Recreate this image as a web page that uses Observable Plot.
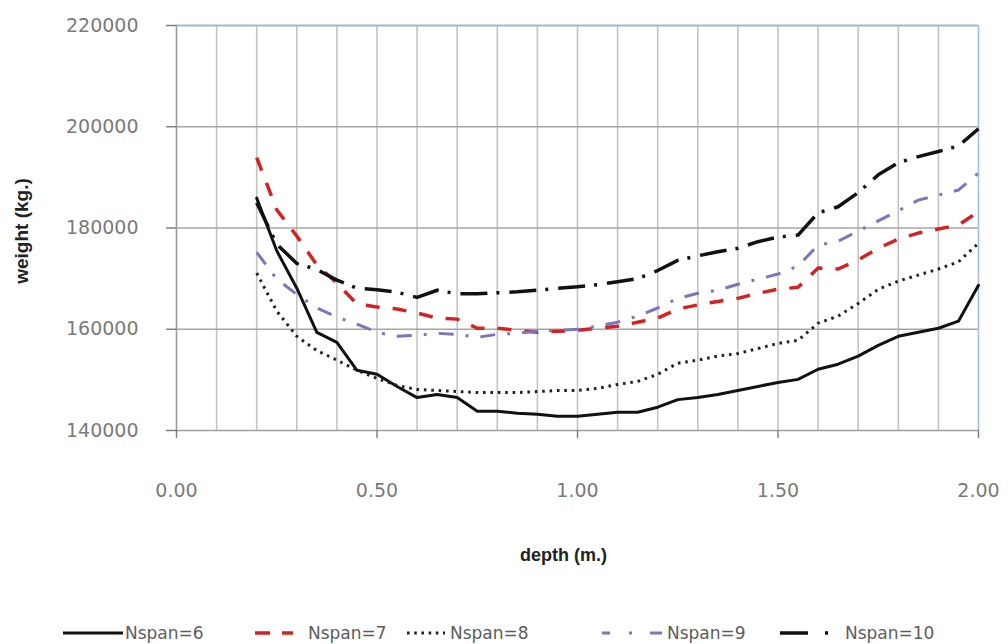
<!DOCTYPE html>
<html>
<head>
<meta charset="utf-8">
<script src="https://cdn.jsdelivr.net/npm/d3@7"></script>
<script src="https://cdn.jsdelivr.net/npm/@observablehq/plot@0.6"></script>
<style>
  body { margin: 0; background: #fff; font-family: "DejaVu Sans", sans-serif; }
  #wrap { position: relative; width: 1008px; height: 644px; overflow: hidden; background: #fff; }
  #legend { position: absolute; left: 0; top: 621px; width: 1008px; height: 24px; }
  .item { position: absolute; top: 0; height: 24px; display: flex; align-items: center;
          font-size: 17px; color: #5c5c5c; white-space: nowrap; }
  .item svg { display: block; margin-right: 4px; }
</style>
</head>
<body>
<div id="wrap">
  <div id="chart"></div>
  <div id="legend"></div>
</div>
<script>
// Beam depth (m.)
const depth = [0.20, 0.25, 0.30, 0.35, 0.40, 0.45, 0.50, 0.55, 0.60, 0.65,
               0.70, 0.75, 0.80, 0.85, 0.90, 0.95, 1.00, 1.05, 1.10, 1.15,
               1.20, 1.25, 1.30, 1.35, 1.40, 1.45, 1.50, 1.55, 1.60, 1.65,
               1.70, 1.75, 1.80, 1.85, 1.90, 1.95, 2.00];

// Total weight (kg.) for each number of spans
const nspan6 = [185900, 175500, 168100, 159400, 157400, 151900, 151100, 148700, 146500, 147100,
                146500, 143800, 143800, 143400, 143200, 142800, 142800, 143200, 143600, 143600,
                144600, 146100, 146500, 147100, 147900, 148700, 149500, 150100, 152100, 153100,
                154700, 156800, 158600, 159400, 160200, 161600, 168700];
const nspan7 = [193900, 183600, 178400, 172700, 169100, 165000, 164400, 164000, 163200, 162200,
                162000, 160200, 160200, 159800, 159400, 159600, 159800, 160200, 160600, 161400,
                162200, 164000, 164800, 165500, 166100, 167100, 167900, 168300, 172100, 171900,
                173700, 176000, 177800, 179000, 179800, 180600, 183200];
const nspan8 = [171100, 163600, 158600, 155800, 153900, 151900, 150300, 148900, 148100, 147900,
                147700, 147500, 147500, 147500, 147700, 147900, 147900, 148300, 149100, 149700,
                151100, 153300, 153900, 154700, 155200, 156200, 157200, 157800, 161200, 162600,
                165100, 167900, 169500, 170700, 171900, 173300, 177000];
const nspan9 = [175200, 169900, 166900, 164200, 162400, 161000, 159400, 158600, 158800, 159200,
                159000, 158400, 159000, 159200, 159600, 159800, 160000, 160600, 161400, 162600,
                164200, 166100, 167100, 167700, 168900, 169900, 170900, 172500, 176600, 177400,
                179400, 181400, 183400, 185500, 186500, 187500, 190900];
const nspan10 = [185000, 176800, 173000, 171800, 169700, 168100, 167800, 167300, 166300, 167700,
                 167000, 167000, 167200, 167400, 167700, 168100, 168400, 168800, 169400, 170000,
                 171600, 173600, 174500, 175300, 176000, 177300, 178200, 178600, 183000, 184200,
                 187000, 190500, 192900, 194100, 195100, 196200, 199600];

const seriesNames = ["Nspan=6", "Nspan=7", "Nspan=8", "Nspan=9", "Nspan=10"];
const seriesValues = [nspan6, nspan7, nspan8, nspan9, nspan10];

const yTicks = [140000, 160000, 180000, 200000, 220000];
const xTicks = [0, 0.5, 1, 1.5, 2];
const xGrid = [0.1, 0.2, 0.3, 0.4, 0.5, 0.6, 0.7, 0.8, 0.9, 1.0,
               1.1, 1.2, 1.3, 1.4, 1.5, 1.6, 1.7, 1.8, 1.9];
const yGrid = [160000, 180000, 200000];

// Line style for each series
const lineStyles = {
  "Nspan=6":  {stroke: "#111", strokeWidth: 3, dash: null, cap: "round"},
  "Nspan=7":  {stroke: "#d42222", strokeWidth: 3.5, dash: "14,13", cap: "butt"},
  "Nspan=8":  {stroke: "#222", strokeWidth: 3, dash: "2.6,4.8", cap: "butt"},
  "Nspan=9":  {stroke: "#7c74bc", strokeWidth: 3, dash: "15,12,3,12", cap: "butt"},
  "Nspan=10": {stroke: "#111", strokeWidth: 3.5, dash: "27,9,3,10", cap: "butt"}
};

const rows = [];
seriesNames.forEach((name, i) => {
  depth.forEach((d, j) => rows.push({series: name, depth: d, weight: seriesValues[i][j]}));
});

const lineMarks = seriesNames.map(name => {
  const s = lineStyles[name];
  return Plot.line(rows.filter(r => r.series === name), {
    x: "depth", y: "weight",
    stroke: s.stroke, strokeWidth: s.strokeWidth,
    strokeDasharray: s.dash ?? undefined,
    strokeLinecap: s.cap, strokeLinejoin: "round"
  });
});

const titleFont = "Liberation Sans, Arial, sans-serif";

const chart = Plot.plot({
  width: 1000,
  height: 612,
  marginLeft: 176,
  marginRight: 22,
  marginTop: 25,
  marginBottom: 182,
  x: {domain: [0, 2]},
  y: {domain: [140000, 220000]},
  style: {fontFamily: "DejaVu Sans, sans-serif", fontSize: "19px", background: "transparent", overflow: "hidden"},
  marks: [
    Plot.ruleX(xGrid, {stroke: "#c4c4c4", strokeWidth: 1.6}),
    Plot.ruleY(yGrid, {stroke: "#a6a6a6", strokeWidth: 1.6}),
    Plot.ruleY([140000], {stroke: "#a0a0a0", strokeWidth: 1.6}),
    Plot.ruleY([220000], {stroke: "#9fb4e6", strokeWidth: 1.8}),
    Plot.ruleX([2], {stroke: "#a9bbe6", strokeWidth: 1.6}),
    Plot.ruleX([0], {stroke: "#999", strokeWidth: 1.6}),
    Plot.axisY({ticks: yTicks, tickSize: 10, tickPadding: 28, tickFormat: d => String(d),
                label: null, color: "#7a7a7a", strokeWidth: 1.4}),
    Plot.axisX({ticks: xTicks, tickSize: 8, tickPadding: 45, tickFormat: d3.format(".2f"),
                label: null, color: "#7a7a7a", strokeWidth: 1.4}),
    Plot.text(["depth (m.)"], {frameAnchor: "bottom", dy: 125, dx: -14, text: d => d,
                               textAnchor: "middle", lineAnchor: "middle", fontFamily: titleFont,
                               fontWeight: "bold", fontSize: 18, fill: "#222"}),
    Plot.text(["weight (kg.)"], {frameAnchor: "left", dx: -155, dy: 3, rotate: -90, text: d => d,
                                 textAnchor: "middle", lineAnchor: "middle", fontFamily: titleFont,
                                 fontWeight: "bold", fontSize: 19, fill: "#222"}),
    ...lineMarks
  ]
});
document.getElementById("chart").appendChild(chart);

// Legend along the bottom
const legendLayout = [
  {name: "Nspan=6",  left: 63,  sample: 60, dash: null},
  {name: "Nspan=7",  left: 255, sample: 38, dash: "15,12", gap: 15},
  {name: "Nspan=8",  left: 407, sample: 38, dash: "2.6,4.6", gap: 5},
  {name: "Nspan=9",  left: 602, sample: 60, dash: "8,19,3,18,12", gap: 5},
  {name: "Nspan=10", left: 780, sample: 48, dash: "28,17,3,20", gap: 17}
];
const legend = d3.select("#legend");
legendLayout.forEach(item => {
  const s = lineStyles[item.name];
  const div = legend.append("div").attr("class", "item").style("left", item.left + "px");
  const svg = div.append("svg").attr("width", item.sample).attr("height", 10)
    .style("margin-right", (item.gap ?? 2) + "px");
  svg.append("line").attr("x1", 0).attr("x2", item.sample).attr("y1", 5).attr("y2", 5)
    .attr("stroke", s.stroke).attr("stroke-width", s.strokeWidth)
    .attr("stroke-dasharray", item.dash).attr("stroke-linecap", "butt");
  div.append("span").text(item.name);
});
</script>
</body>
</html>
